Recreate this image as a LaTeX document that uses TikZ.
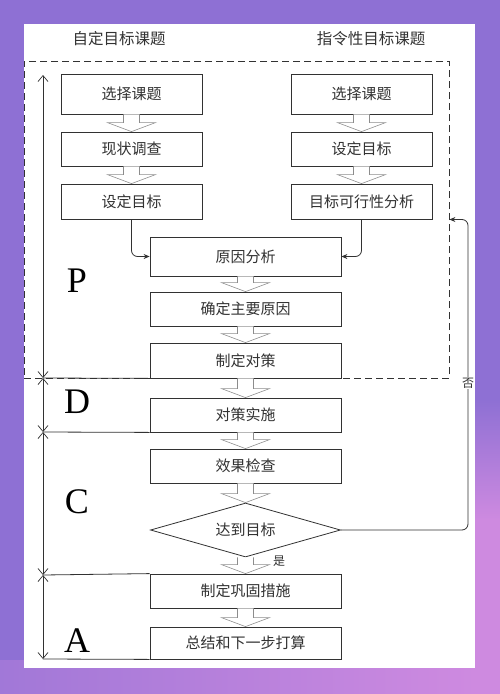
\documentclass[tikz,border=0pt]{standalone}
\usepackage{fontspec}
\setmainfont{Liberation Serif}
\newfontfamily\cjk{Noto Sans CJK SC}
\usetikzlibrary{shapes.geometric,arrows.meta,calc}
\definecolor{bgpurple}{RGB}{142,112,212}
\definecolor{bgpink}{RGB}{206,138,224}
\definecolor{inkc}{RGB}{50,50,50}
\begin{document}
\begin{tikzpicture}[x=1pt,y=-1pt,
  box/.style={draw=inkc, line width=0.8pt, fill=white, minimum width=141pt, inner sep=0pt,
              font=\cjk\fontsize{15}{18}\selectfont, text=inkc},
  wbox/.style={box, minimum width=191pt},
  blk/.style={draw=black!45, line width=0.6pt, fill=white},
  conn/.style={draw=inkc, line width=0.8pt, rounded corners=6pt, -{Stealth[length=6pt,width=5pt]}},
  dim/.style={draw=inkc, line width=0.7pt, {Straight Barb[length=6pt,width=10pt]}-{Straight Barb[length=6pt,width=10pt]}},
  sep/.style={draw=inkc, line width=0.8pt},
  hdr/.style={font=\cjk\fontsize{15.5}{18}\selectfont, text=inkc},
  phase/.style={font=\fontsize{36}{40}\selectfont, text=black},
  lbl/.style={font=\cjk\fontsize{12}{14}\selectfont, text=inkc, inner sep=1pt}]
\newcommand\blkarr[2]{%
  \draw[blk] let \p1=(#1.south), \p2=(#2.north) in
    (\x1-8pt,\y1) -- (\x1-8pt,\y2+9pt) -- (\x1-24pt,\y2+9pt) -- (\x1,\y2)
    -- (\x1+24pt,\y2+9pt) -- (\x1+8pt,\y2+9pt) -- (\x1+8pt,\y1);}
% background
\useasboundingbox (0,0) rectangle (500,694);
\fill[bgpurple] (0,0) rectangle (500,694);
\shade[top color=bgpurple, bottom color=bgpink] (475,400) rectangle (500,520);
\fill[bgpink] (475,519) rectangle (500,694);
\shade[left color=bgpurple!70!bgpink, right color=bgpink] (0,660) rectangle (476,694);
\fill[white] (24,24) rectangle (475,668);
% headers
\node[hdr] (h1) at (119,39) {自定目标课题};
\node[hdr] (h2) at (371,39) {指令性目标课题};
% dashed P box
\node[draw=inkc, dashed, dash pattern=on 7pt off 4pt, line width=0.8pt, minimum width=425pt, minimum height=317pt, inner sep=0pt] (Pbox) at (236.5,219.5) {};
% left column
\node[box, minimum height=40pt] (L1) at (131.5,94) {选择课题};
\node[box, minimum height=34pt] (L2) at (131.5,149) {现状调查};
\node[box, minimum height=35pt] (L3) at (131.5,201.5) {设定目标};
% right column
\node[box, minimum height=40pt] (R1) at (361.5,94) {选择课题};
\node[box, minimum height=34pt] (R2) at (361.5,149) {设定目标};
\node[box, minimum height=35pt] (R3) at (361.5,201.5) {目标可行性分析};
% central column
\node[wbox, minimum height=39pt] (C1) at (245.5,256.5) {原因分析};
\node[wbox, minimum height=34pt] (C2) at (245.5,309) {确定主要原因};
\node[wbox, minimum height=35pt] (C3) at (245.5,360.5) {制定对策};
\node[wbox, minimum height=34pt] (C4) at (245.5,415) {对策实施};
\node[wbox, minimum height=34pt] (C5) at (245.5,466) {效果检查};
\node[draw=inkc, line width=0.8pt, fill=white, diamond, shape aspect=3.5, minimum width=190pt, minimum height=54pt, inner sep=0pt,
      font=\cjk\fontsize{15}{18}\selectfont, text=inkc] (D) at (245.5,530) {达到目标};
\node[wbox, minimum height=34pt] (C6) at (245.5,591) {制定巩固措施};
\node[wbox, minimum height=32pt] (C7) at (245.5,643) {总结和下一步打算};
% hollow arrows
\blkarr{L1}{L2}
\blkarr{L2}{L3}
\blkarr{R1}{R2}
\blkarr{R2}{R3}
\blkarr{C1}{C2}
\blkarr{C2}{C3}
\blkarr{C3}{C4}
\blkarr{C4}{C5}
\blkarr{C5}{D}
\blkarr{D}{C6}
\blkarr{C6}{C7}
% connectors into 原因分析
\draw[conn] (L3.south) |- (C1.west);
\draw[conn] (R3.south) |- (C1.east);
% feedback
\coordinate (fb) at (468,530);
\draw[conn] (D.east) -- (fb) |- (Pbox.east);
\node[lbl, fill=white] (no) at (468,383) {否};
\node[lbl] (yes) at (279,561) {是};
% phase separators
\coordinate (d0) at (43,75);
\coordinate (d1) at (43,378);
\coordinate (d2) at (43,432);
\coordinate (d3) at (43,575);
\coordinate (d4) at (43,659);
\draw[sep] (d1) -- (C3.south west);
\draw[sep] (d2) -- (C4.south west);
\draw[sep] (d3) -- (C6.north west);
\draw[sep] (d4) -- (C7.south west);
\draw[dim] (d0) -- (d1);
\draw[dim] (d1) -- (d2);
\draw[dim] (d2) -- (d3);
\draw[dim] (d3) -- (d4);
% phase letters
\node[phase] (pP) at (77,281) {P};
\node[phase] (pD) at (77,402) {D};
\node[phase] (pC) at (77,502) {C};
\node[phase] (pA) at (77,641) {A};
\end{tikzpicture}
\end{document}
